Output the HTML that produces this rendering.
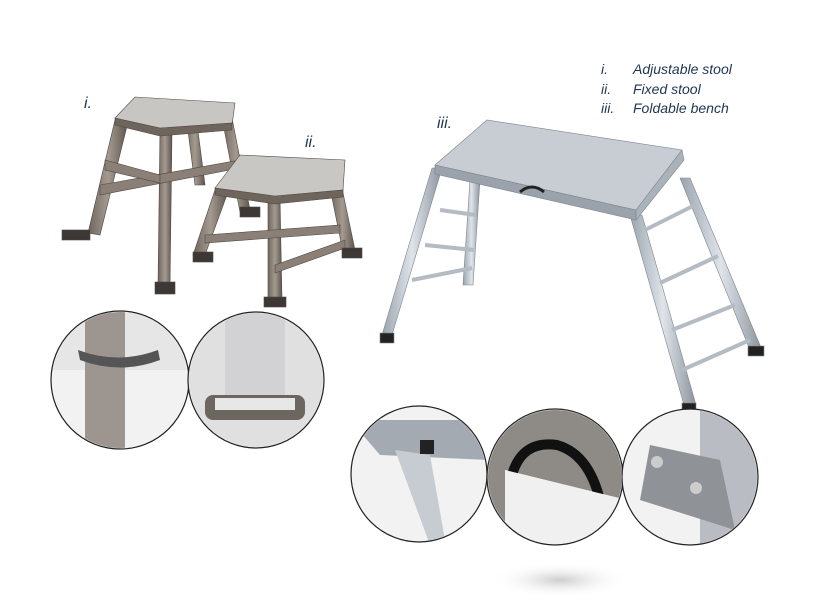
<!DOCTYPE html>
<html><head><meta charset="utf-8"><style>
html,body{margin:0;padding:0;background:#fff}
svg{display:block}
text{font-family:"Liberation Sans",sans-serif;font-style:italic;fill:#1f3550}
</style></head><body>
<svg width="840" height="607" viewBox="0 0 840 607">
<defs>
<linearGradient id="al" x1="0" x2="1"><stop offset="0" stop-color="#9aa3ad"/><stop offset="0.5" stop-color="#dfe4ea"/><stop offset="1" stop-color="#8b939c"/></linearGradient>
<linearGradient id="br" x1="0" x2="1"><stop offset="0" stop-color="#6e655d"/><stop offset="0.5" stop-color="#a49a90"/><stop offset="1" stop-color="#5d554e"/></linearGradient>
<radialGradient id="sh"><stop offset="0" stop-color="#ccc"/><stop offset="1" stop-color="#fff" stop-opacity="0"/></radialGradient>
<clipPath id="c1"><circle cx="120" cy="380" r="68"/></clipPath>
<clipPath id="c2"><circle cx="256" cy="380" r="67"/></clipPath>
<clipPath id="c3"><circle cx="419" cy="474" r="67"/></clipPath>
<clipPath id="c4"><circle cx="555" cy="477" r="67"/></clipPath>
<clipPath id="c5"><circle cx="690" cy="477" r="67"/></clipPath>
</defs>
<ellipse cx="560" cy="580" rx="70" ry="18" fill="url(#sh)"/>
<g stroke="#4e4741" stroke-width="0.6">
<polygon points="115,120 128,122 100,235 88,233" fill="url(#br)"/>
<polygon points="160,130 172,130 170,285 158,285" fill="url(#br)"/>
<polygon points="222,118 232,118 250,210 240,212" fill="url(#br)"/>
<polygon points="185,108 195,108 205,185 195,185" fill="url(#br)"/>
<polygon points="100,185 240,160 240,168 100,195" fill="#8a8077"/>
<polygon points="105,160 160,175 160,183 105,170" fill="#8a8077"/>
<polygon points="115,118 135,97 235,103 232,125 160,130" fill="#c8c6c2"/>
<polygon points="115,118 160,128 232,123 232,130 160,136 115,125" fill="#6e655d"/>
<rect x="62" y="230" width="28" height="10" fill="#3d3835"/>
<rect x="155" y="282" width="20" height="12" fill="#3d3835"/>
<rect x="240" y="207" width="20" height="10" fill="#3d3835"/>
</g>
<g stroke="#4e4741" stroke-width="0.6">
<polygon points="215,190 228,192 205,255 193,255" fill="url(#br)"/>
<polygon points="268,198 280,198 282,300 268,300" fill="url(#br)"/>
<polygon points="330,188 342,188 355,250 343,252" fill="url(#br)"/>
<polygon points="205,235 340,225 340,233 205,243" fill="#8a8077"/>
<polygon points="275,265 345,240 345,248 275,273" fill="#8a8077"/>
<polygon points="215,188 240,155 345,160 343,190 275,197" fill="#c9c7c3"/>
<polygon points="215,188 275,196 343,190 343,197 275,204 215,195" fill="#6e655d"/>
<rect x="193" y="252" width="20" height="10" fill="#3d3835"/>
<rect x="264" y="297" width="22" height="10" fill="#3d3835"/>
<rect x="342" y="248" width="20" height="10" fill="#3d3835"/>
</g>
<g stroke="#7d858e" stroke-width="0.6">
<polygon points="432,168 442,168 392,335 382,335" fill="url(#al)"/>
<polygon points="470,180 480,180 473,285 463,285" fill="url(#al)"/>
<line x1="440" y1="210" x2="476" y2="215" stroke="#b4bbc3" stroke-width="4"/>
<line x1="425" y1="245" x2="474" y2="250" stroke="#b4bbc3" stroke-width="4"/>
<line x1="412" y1="280" x2="472" y2="268" stroke="#b4bbc3" stroke-width="4"/>
<polygon points="630,215 642,215 696,405 684,405" fill="url(#al)"/>
<polygon points="680,178 690,178 762,350 750,350" fill="url(#al)"/>
<line x1="645" y1="230" x2="695" y2="205" stroke="#b4bbc3" stroke-width="4"/>
<line x1="660" y1="283" x2="718" y2="256" stroke="#b4bbc3" stroke-width="4"/>
<line x1="672" y1="330" x2="735" y2="305" stroke="#b4bbc3" stroke-width="4"/>
<line x1="682" y1="370" x2="750" y2="340" stroke="#b4bbc3" stroke-width="4"/>
<polygon points="435,165 487,120 682,150 636,210" fill="#c8cdd3"/>
<polygon points="435,165 636,210 636,220 435,174" fill="#9aa2ab"/>
<polygon points="636,210 682,150 684,160 636,220" fill="#aab2ba"/>
<rect x="380" y="333" width="14" height="10" fill="#222"/>
<rect x="682" y="403" width="14" height="10" fill="#222"/>
<rect x="748" y="346" width="16" height="10" fill="#222"/>
<path d="M520,192 q12,-10 24,0" fill="none" stroke="#222" stroke-width="3"/>
</g>
<g stroke="#222" stroke-width="1.2" fill="#f2f2f2">
<circle cx="120" cy="380" r="69"/>
<circle cx="256" cy="380" r="68"/>
<circle cx="419" cy="474" r="68"/>
<circle cx="555" cy="477" r="68"/>
<circle cx="690" cy="477" r="68"/>
</g>
<g clip-path="url(#c1)">
<rect x="50" y="310" width="140" height="60" fill="#e6e6e6"/>
<rect x="85" y="310" width="40" height="140" fill="#9d9690"/>
<path d="M78,350 q40,15 80,0 l2,10 q-40,15 -80,0z" fill="#555"/>
</g>
<g clip-path="url(#c2)">
<rect x="188" y="310" width="140" height="140" fill="#e0e0e0"/>
<rect x="225" y="310" width="60" height="90" fill="#d2d2d4"/>
<rect x="205" y="395" width="100" height="25" rx="8" fill="#6c6660"/>
<rect x="215" y="398" width="80" height="12" fill="#e7e7e7"/>
</g>
<g clip-path="url(#c3)">
<polygon points="350,420 490,420 490,460 380,455" fill="#a3aab2"/>
<polygon points="395,450 430,455 445,540 430,545" fill="#c7ccd2"/>
<rect x="420" y="440" width="14" height="14" fill="#222"/>
</g>
<g clip-path="url(#c4)">
<polygon points="487,405 627,405 627,500 505,470 505,545 487,545" fill="#8e8a86"/>
<path d="M512,475 q10,-35 45,-30 q35,10 45,65" fill="none" stroke="#111" stroke-width="10"/>
<polygon points="505,470 627,500 627,545 505,545" fill="#f0f0f0"/>
</g>
<g clip-path="url(#c5)">
<rect x="700" y="405" width="60" height="140" fill="#b9bcc3"/>
<polygon points="650,445 720,460 735,530 640,500" fill="#8f9398"/>
<circle cx="657" cy="462" r="6" fill="#ccc"/>
<circle cx="696" cy="488" r="6" fill="#ccc"/>
</g>
<text x="84" y="108" font-size="16">i.</text>
<text x="305" y="147" font-size="16">ii.</text>
<text x="437" y="128" font-size="16">iii.</text>
<g font-size="14">
<text x="601" y="74">i.</text><text x="633" y="74">Adjustable stool</text>
<text x="601" y="94">ii.</text><text x="633" y="94">Fixed stool</text>
<text x="601" y="113">iii.</text><text x="633" y="113">Foldable bench</text>
</g>
</svg>
</body></html>
